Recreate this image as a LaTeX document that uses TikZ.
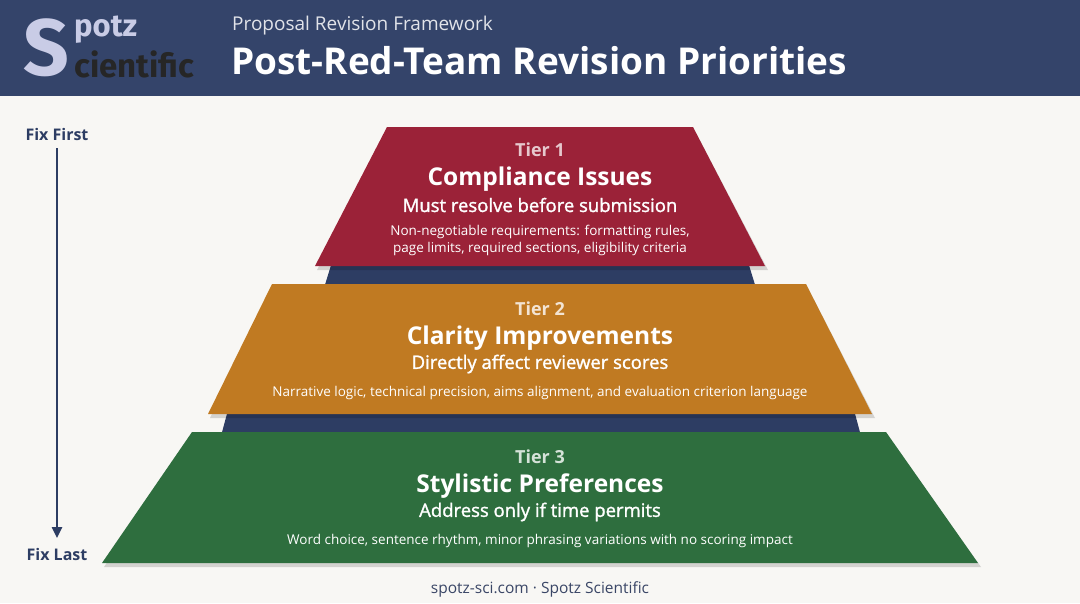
\documentclass[tikz,border=0pt]{standalone}
\usepackage{fontspec}
\setmainfont{Open Sans}
\newfontfamily\logofont{Fira Sans}
\usetikzlibrary{arrows.meta}
\definecolor{bg}{HTML}{F8F7F4}
\definecolor{hdr}{HTML}{34446A}
\definecolor{navy}{HTML}{2D3D63}
\definecolor{tred}{HTML}{9B2238}
\definecolor{torange}{HTML}{C07A22}
\definecolor{tgreen}{HTML}{2E6E3E}
\definecolor{lav}{HTML}{C9CCE6}
\definecolor{foot}{HTML}{3A4666}
\begin{document}
\begin{tikzpicture}[x=1pt,y=-1pt,
  txt/.style={text=white,anchor=center,inner sep=0pt},
  tier/.style={txt,font=\fontsize{18}{20}\selectfont\bfseries},
  ttl/.style={txt,font=\fontsize{24.5}{28}\selectfont\bfseries},
  sub/.style={txt,font=\fontsize{18.5}{20}\selectfont},
  det/.style={txt,font=\fontsize{13.5}{17}\selectfont,align=center},
  side/.style={text=navy,font=\fontsize{16}{18}\selectfont\bfseries,inner sep=0pt}]
\fill[bg] (0,0) rectangle (1080,603);
\useasboundingbox (0,0) rectangle (1080,603);
\fill[hdr] (0,0) rectangle (1080,96);
% logo
\node[text=lav,font=\logofont\fontsize{80}{80}\selectfont\bfseries,inner sep=0pt] (logoS) at (46,48) {S};
\node[text=lav,font=\logofont\fontsize{31}{31}\selectfont\bfseries,anchor=west,inner sep=0pt] (logop) at (74,30) {potz};
\node[text=black!85,font=\logofont\fontsize{33}{33}\selectfont\bfseries,anchor=west,inner sep=0pt] (logoc) at (74,64) {cientific};
\node[text=white!85!hdr,font=\fontsize{19}{22}\selectfont,anchor=west,inner sep=0pt] (pre) at (232,26) {Proposal Revision Framework};
\node[text=white,font=\fontsize{37}{42}\selectfont\bfseries,anchor=west,inner sep=0pt] (title) at (231,61) {Post-Red-Team Revision Priorities};
% navy back bands
\fill[navy] (332,262) -- (748,262) -- (756,288) -- (324,288) -- cycle;
\fill[navy] (228,410) -- (854,410) -- (861,436) -- (221,436) -- cycle;
% tiers
\fill[black,opacity=0.15] (389,131) -- (695,131) -- (768,270) -- (317,270) -- cycle;
\fill[tred] (387,127) -- (693,127) -- (765,266) -- (315,266) -- cycle;
\fill[black,opacity=0.15] (274,288) -- (808,288) -- (875,418) -- (210,418) -- cycle;
\fill[torange] (272,284) -- (806,284) -- (872,414) -- (208,414) -- cycle;
\fill[black,opacity=0.15] (194,436) -- (888,436) -- (981,567) -- (104,567) -- cycle;
\fill[tgreen] (192,432) -- (886,432) -- (978,563) -- (102,563) -- cycle;
\node[tier,text=white!75!tred] (t1) at (540,150) {Tier 1};
\node[ttl] (t1t) at (540,179) {Compliance Issues};
\node[sub] (t1s) at (540,205) {\addfontfeature{FakeBold=1.5}Must resolve before submission};
\node[det] (t1d) at (540,240) {Non-negotiable requirements: formatting rules,\\page limits, required sections, eligibility criteria};
\node[tier,text=white!80!torange] (t2) at (540,309) {Tier 2};
\node[ttl] (t2t) at (540,338) {Clarity Improvements};
\node[sub] (t2s) at (540,364) {\addfontfeature{FakeBold=1.5}Directly affect reviewer scores};
\node[det] (t2d) at (540,393) {Narrative logic, technical precision, aims alignment, and evaluation criterion language};
\node[tier,text=white!80!tgreen] (t3) at (540,457) {Tier 3};
\node[ttl] (t3t) at (540,486) {Stylistic Preferences};
\node[sub] (t3s) at (540,512) {\addfontfeature{FakeBold=1.5}Address only if time permits};
\node[det] (t3d) at (540,541) {Word choice, sentence rhythm, minor phrasing variations with no scoring impact};
% side arrow
\node[side] (ff) at (57,134) {Fix First};
\node[side] (fl) at (57,554) {Fix Last};
\coordinate (a0) at (57,148);
\coordinate (a1) at (57,538);
\draw[navy,line width=2.4pt,-{Triangle[length=11pt,width=10pt]}] (a0) -- (a1);
\node[text=foot,font=\fontsize{15.5}{17}\selectfont,inner sep=0pt] (ft) at (540,589) {spotz-sci.com · Spotz Scientific};
\end{tikzpicture}
\end{document}
